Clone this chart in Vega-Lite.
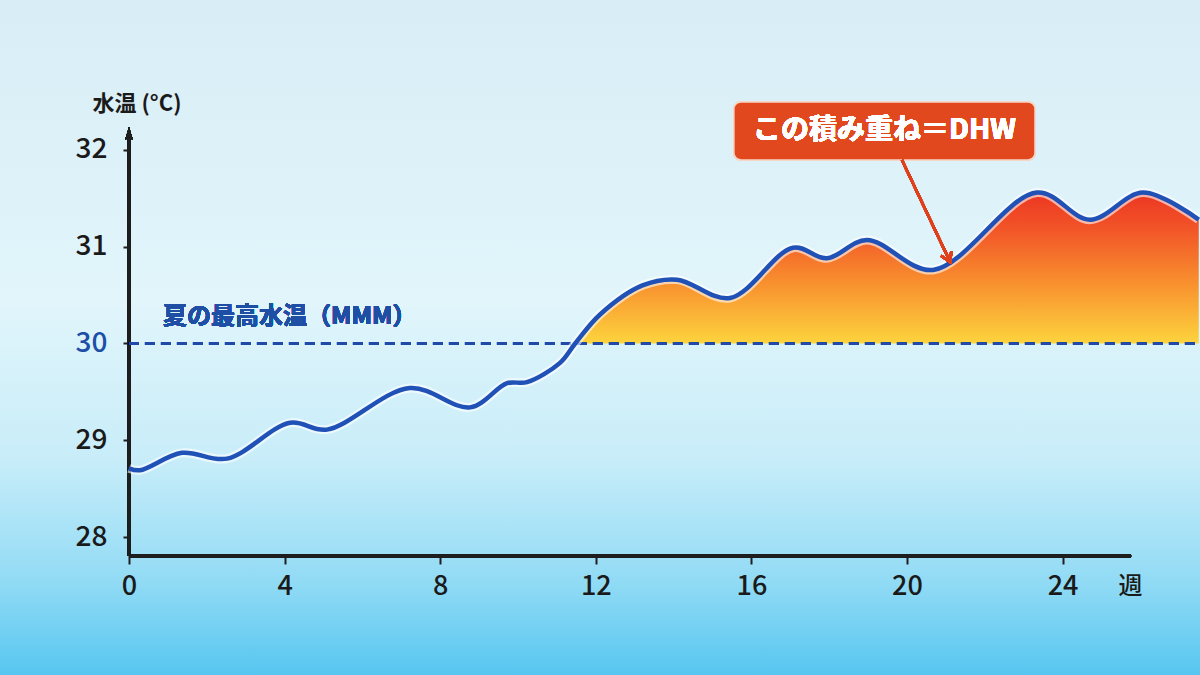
{
  "$schema": "https://vega.github.io/schema/vega-lite/v6.json",
  "width": 1200,
  "height": 675,
  "autosize": {"type": "none"},
  "padding": 0,
  "background": "#dcf0f8",
  "config": {
    "font": "Noto Sans CJK JP",
    "view": {
      "stroke": null,
      "fill": {
        "gradient": "linear",
        "x1": 0, "y1": 0, "x2": 0, "y2": 1,
        "stops": [
          {"offset": 0, "color": "#d9edf6"},
          {"offset": 0.45, "color": "#e1f5fb"},
          {"offset": 0.68, "color": "#c8edf9"},
          {"offset": 0.86, "color": "#92dbf5"},
          {"offset": 1, "color": "#57c6f0"}
        ]
      }
    }
  },
  "datasets": {
    "sst": [
      {"week": 0, "temp": 28.71},
      {"week": 0.28, "temp": 28.69},
      {"week": 1.36, "temp": 28.87},
      {"week": 2.52, "temp": 28.81},
      {"week": 4.14, "temp": 29.18},
      {"week": 5.09, "temp": 29.11},
      {"week": 7.22, "temp": 29.54},
      {"week": 8.77, "temp": 29.34},
      {"week": 9.72, "temp": 29.59},
      {"week": 10.23, "temp": 29.6},
      {"week": 11.08, "temp": 29.8},
      {"week": 11.47, "temp": 30.0},
      {"week": 12.11, "temp": 30.3},
      {"week": 13.2, "temp": 30.6},
      {"week": 14.09, "temp": 30.66},
      {"week": 15.45, "temp": 30.47},
      {"week": 17.07, "temp": 30.99},
      {"week": 17.94, "temp": 30.88},
      {"week": 18.97, "temp": 31.07},
      {"week": 20.67, "temp": 30.76},
      {"week": 23.34, "temp": 31.56},
      {"week": 24.7, "temp": 31.28},
      {"week": 26.07, "temp": 31.56},
      {"week": 27.5, "temp": 31.28}
    ]
  },
  "data": {"name": "sst"},
  "layer": [
    {
      "description": "Heat accumulated above the MMM (the DHW area)",
      "transform": [{"filter": "datum.temp >= 30"}],
      "mark": {
        "type": "area",
        "interpolate": "catmull-rom",
        "color": {
          "gradient": "linear",
          "x1": 0, "y1": 1, "x2": 0, "y2": 0,
          "stops": [
            {"offset": 0, "color": "#fdd43e"},
            {"offset": 0.4, "color": "#f8902e"},
            {"offset": 0.75, "color": "#f25628"},
            {"offset": 1, "color": "#ec3622"}
          ]
        }
      },
      "encoding": {
        "x": {
          "field": "week",
          "type": "quantitative",
          "scale": {"domain": [-3.316, 27.532], "nice": false, "zero": false},
          "axis": {
            "values": [0, 4, 8, 12, 16, 20, 24],
            "format": "d",
            "offset": -119,
            "domain": false,
            "grid": false,
            "tickSize": 8,
            "tickWidth": 2,
            "tickColor": "#1e1e1e",
            "labelFlush": false,
            "labelFontSize": 27,
            "labelFontWeight": 500,
            "labelColor": "#1a1a1a",
            "labelPadding": 9,
            "title": "週",
            "titleX": 1130,
            "titleY": 30,
            "titleAlign": "center",
            "titleBaseline": "middle",
            "titleFontSize": 24,
            "titleFontWeight": 500,
            "titleColor": "#1a1a1a"
          }
        },
        "y": {
          "field": "temp",
          "type": "quantitative",
          "scale": {"domain": [26.574, 33.55], "nice": false, "zero": false},
          "axis": {
            "values": [28, 29, 30, 31, 32],
            "format": "d",
            "offset": -129,
            "domain": false,
            "grid": false,
            "tickSize": 6,
            "tickWidth": 2,
            "tickColor": "#1e1e1e",
            "labelFontSize": 28,
            "labelFontWeight": 500,
            "labelPadding": 16,
            "labelColor": {"condition": {"test": "datum.value === 30", "value": "#1d4fa6"}, "value": "#1a1a1a"},
            "title": "水温 (°C)",
            "titleAngle": 0,
            "titleX": -37,
            "titleY": 103,
            "titleAlign": "left",
            "titleBaseline": "middle",
            "titleFontSize": 22,
            "titleFontWeight": "bold",
            "titleColor": "#1a1a1a"
          }
        },
        "y2": {"datum": 30}
      }
    },
    {
      "description": "x axis line",
      "mark": {"type": "rule", "color": "#1e1e1e", "strokeWidth": 2.5},
      "encoding": {
        "x": {"datum": 0, "type": "quantitative"},
        "x2": {"datum": 25.76},
        "y": {"datum": 27.804, "type": "quantitative"}
      }
    },
    {
      "description": "y axis line",
      "mark": {"type": "rule", "color": "#1e1e1e", "strokeWidth": 2.5},
      "encoding": {
        "x": {"datum": 0, "type": "quantitative"},
        "y": {"datum": 27.804, "type": "quantitative"},
        "y2": {"datum": 32.15}
      }
    },
    {
      "description": "y axis arrowhead",
      "mark": {
        "type": "point",
        "shape": "M0,-1L0.6,1L0,0.55L-0.6,1Z",
        "filled": true,
        "color": "#1e1e1e",
        "opacity": 1,
        "size": 169
      },
      "encoding": {
        "x": {"datum": 0, "type": "quantitative"},
        "y": {"datum": 32.17, "type": "quantitative"}
      }
    },
    {
      "description": "MMM threshold",
      "mark": {"type": "rule", "color": "#1f4aa8", "strokeWidth": 3, "strokeDash": [10, 6]},
      "encoding": {
        "x": {"datum": 0, "type": "quantitative"},
        "x2": {"datum": 27.53},
        "y": {"datum": 30, "type": "quantitative"}
      }
    },
    {
      "mark": {"type": "text", "text": "夏の最高水温（MMM）", "align": "left", "baseline": "middle", "fontSize": 24, "fontWeight": "bold", "color": "#1f4fa5"},
      "encoding": {
        "x": {"datum": 0.874, "type": "quantitative"},
        "y": {"datum": 30.274, "type": "quantitative"}
      }
    },
    {
      "description": "soft halo under the temperature line",
      "mark": {"type": "line", "interpolate": "catmull-rom", "color": "#ffffff", "strokeWidth": 9, "opacity": 0.6},
      "encoding": {
        "x": {"field": "week", "type": "quantitative"},
        "y": {"field": "temp", "type": "quantitative"}
      }
    },
    {
      "mark": {"type": "line", "interpolate": "catmull-rom", "color": "#1f51b6", "strokeWidth": 4.5},
      "encoding": {
        "x": {"field": "week", "type": "quantitative"},
        "y": {"field": "temp", "type": "quantitative"}
      }
    },
    {
      "description": "callout box",
      "mark": {"type": "rect", "color": "#e2481d", "cornerRadius": 7, "stroke": "#f7d6c8", "strokeWidth": 1.5},
      "encoding": {
        "x": {"datum": 15.55, "type": "quantitative"},
        "x2": {"datum": 23.29},
        "y": {"datum": 32.496, "type": "quantitative"},
        "y2": {"datum": 31.897}
      }
    },
    {
      "mark": {"type": "text", "text": "この積み重ね＝DHW", "align": "center", "baseline": "middle", "fontSize": 28, "fontWeight": "bold", "color": "#ffffff"},
      "encoding": {
        "x": {"datum": 19.42, "type": "quantitative"},
        "y": {"datum": 32.197, "type": "quantitative"}
      }
    },
    {
      "description": "callout arrow",
      "mark": {"type": "rule", "color": "#e0401c", "strokeWidth": 2.5},
      "encoding": {
        "x": {"datum": 19.87, "type": "quantitative"},
        "x2": {"datum": 21.11},
        "y": {"datum": 31.897, "type": "quantitative"},
        "y2": {"datum": 30.842}
      }
    },
    {
      "mark": {
        "type": "point",
        "shape": "M-0.6,-1L0,0L0.6,-1",
        "filled": false,
        "stroke": "#e0401c",
        "strokeWidth": 2.5,
        "opacity": 1,
        "size": 360,
        "angle": -25
      },
      "encoding": {
        "x": {"datum": 21.11, "type": "quantitative"},
        "y": {"datum": 30.842, "type": "quantitative"}
      }
    }
  ]
}
